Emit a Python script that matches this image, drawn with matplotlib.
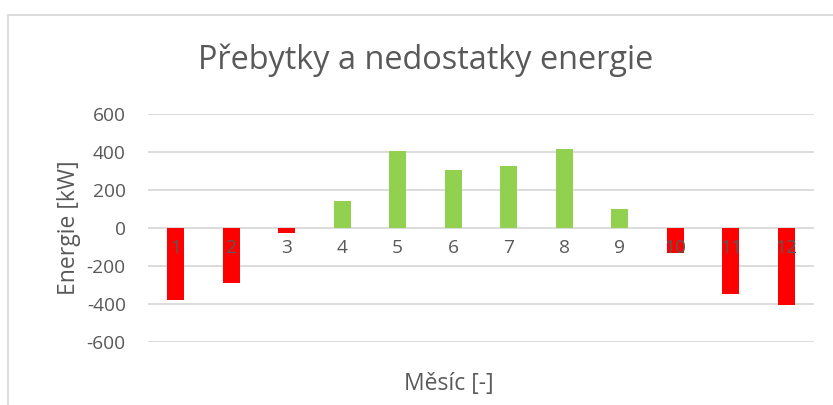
import matplotlib
matplotlib.use("Agg")
import matplotlib.pyplot as plt
from matplotlib.patches import Rectangle

months = [str(m) for m in range(1, 13)]
energy = [-380, -288, -25, 140, 405, 305, 326, 416, 100, -130, -347, -405]
title = 'Přebytky a nedostatky energie'
yticks = [-600, -400, -200, 0, 200, 400, 600]

plt.rcParams['font.family'] = ['Open Sans', 'DejaVu Sans']
txt = '#595959'
colors = ['#FF0000' if v < 0 else '#92D050' for v in energy]

fig = plt.figure(figsize=(8.33, 4.05), dpi=100)
fig.patches.append(Rectangle((8 / 833, -0.1), 1.1, 1 - 15 / 405 + 0.1,
                             transform=fig.transFigure, fill=False,
                             edgecolor='#D9D9D9', linewidth=1.3))

ax = fig.add_axes([148 / 833, 1 - 342 / 405, 666 / 833, 228 / 405])
x = range(len(months))
ax.bar(x, energy, width=0.31, color=colors, zorder=2)
ax.set_xlim(-0.5, 11.5)
ax.set_ylim(-600, 600)
ax.set_yticks(yticks)
ax.set_yticklabels([str(t) for t in yticks])
ax.grid(axis='y', color='#D9D9D9', linewidth=1.3)
ax.set_axisbelow(True)
ax.xaxis.set_zorder(3)  # month labels sit on top of the bars
for s in ax.spines.values():
    s.set_visible(False)
ax.spines['bottom'].set_position(('data', 0))
ax.set_xticks(list(x))
ax.set_xticklabels(months)
ax.tick_params(axis='both', length=0, labelsize=13.8, labelcolor=txt)
ax.tick_params(axis='x', pad=8)
ax.tick_params(axis='y', pad=16)

ax.set_ylabel('Energie [kW]', fontsize=16.5, color=txt, labelpad=4)
fig.text(449 / 833, 1 - 384 / 405, 'Měsíc [-]', fontsize=16.5, color=txt,
         ha='center', va='center')
fig.text(426 / 833, 1 - 60 / 405, title, fontsize=23.4, color=txt,
         ha='center', va='center')

fig.savefig('out.png', dpi=100, facecolor='white')
